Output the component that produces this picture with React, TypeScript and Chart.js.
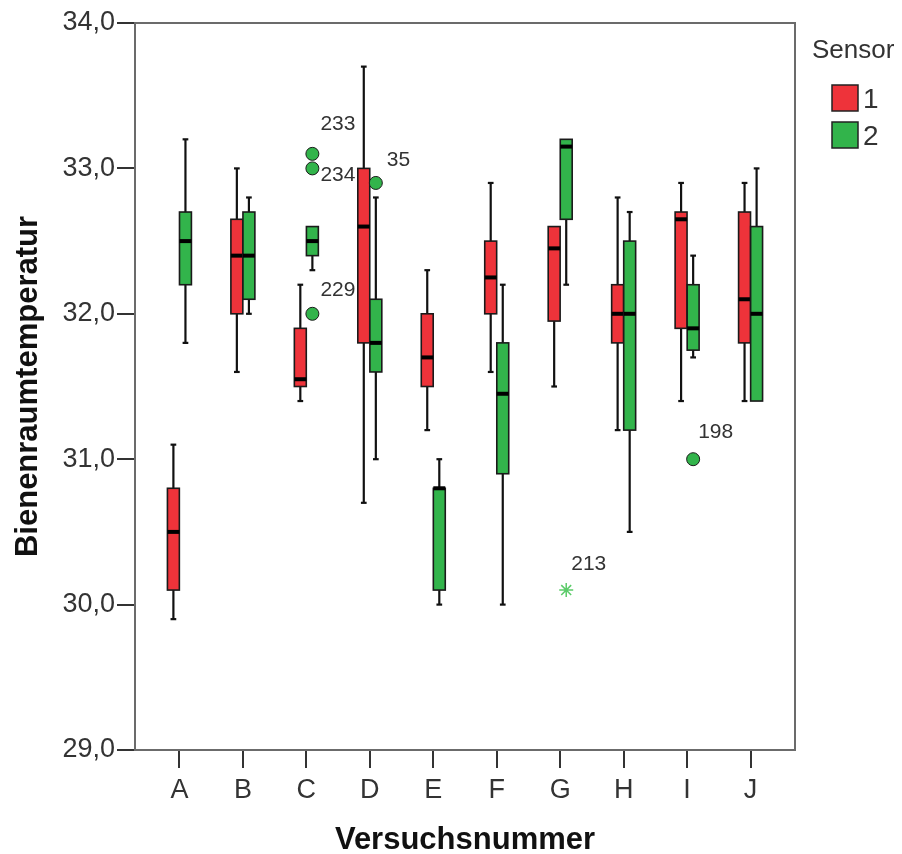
import React, { useEffect, useRef } from 'react';
import { Chart, registerables } from 'chart.js';

Chart.register(...registerables);

const categories = ['A', 'B', 'C', 'D', 'E', 'F', 'G', 'H', 'I', 'J'];
const yTicks = [29, 30, 31, 32, 33, 34];

// Sensor 1 (red)
const s1Min = [29.9, 31.6, 31.4, 30.7, 31.2, 31.6, 31.5, 31.2, 31.4, 31.4];
const s1Q1 = [30.1, 32.0, 31.5, 31.8, 31.5, 32.0, 31.95, 31.8, 31.9, 31.8];
const s1Med = [30.5, 32.4, 31.55, 32.6, 31.7, 32.25, 32.45, 32.0, 32.65, 32.1];
const s1Q3 = [30.8, 32.65, 31.9, 33.0, 32.0, 32.5, 32.6, 32.2, 32.7, 32.7];
const s1Max = [31.1, 33.0, 32.2, 33.7, 32.3, 32.9, 32.6, 32.8, 32.9, 32.9];

// Sensor 2 (green)
const s2Min = [31.8, 32.0, 32.3, 31.0, 30.0, 30.0, 32.2, 30.5, 31.7, 31.4];
const s2Q1 = [32.2, 32.1, 32.4, 31.6, 30.1, 30.9, 32.65, 31.2, 31.75, 31.4];
const s2Med = [32.5, 32.4, 32.5, 31.8, 30.8, 31.45, 33.15, 32.0, 31.9, 32.0];
const s2Q3 = [32.7, 32.7, 32.6, 32.1, 30.8, 31.8, 33.2, 32.5, 32.2, 32.6];
const s2Max = [33.2, 32.8, 32.6, 32.8, 31.0, 32.2, 33.2, 32.7, 32.4, 33.0];

// Outliers (all sensor 2)
const outlierCat = [2, 2, 2, 3, 8];
const outlierVal = [33.1, 33.0, 32.0, 32.9, 31.0];
const outlierId = ['233', '234', '229', '35', '198'];
const outlierLabelDx = [8, 8, 8, 11, 5];
const outlierLabelDy = [-30, 7, -24, -23, -27];

// Extreme values (sensor 2)
const extremeCat = [6];
const extremeVal = [30.1];
const extremeId = ['213'];
const extremeLabelDx = [5];
const extremeLabelDy = [-26];

const legendTitle = 'Sensor';
const legendLabels = ['1', '2'];

const RED = '#ee333a';
const GREEN = '#32b44b';
const FONT = '"Liberation Sans", Arial, sans-serif';
const GROUP_OFF = 0.095;
const BOX_HALF = 0.094;
const CAP_HALF = 0.045;

type Stats = { min: number[]; q1: number[]; med: number[]; q3: number[]; max: number[] };
const sensor1: Stats = { min: s1Min, q1: s1Q1, med: s1Med, q3: s1Q3, max: s1Max };
const sensor2: Stats = { min: s2Min, q1: s2Q1, med: s2Med, q3: s2Q3, max: s2Max };

function drawBox(ctx: CanvasRenderingContext2D, xs: any, ys: any, i: number, center: number, st: Stats, color: string) {
  const cx = xs.getPixelForValue(center);
  const half = xs.getPixelForValue(center + BOX_HALF) - cx;
  const cap = xs.getPixelForValue(center + CAP_HALF) - cx;
  const pMin = ys.getPixelForValue(st.min[i]);
  const pQ1 = ys.getPixelForValue(st.q1[i]);
  const pMed = ys.getPixelForValue(st.med[i]);
  const pQ3 = ys.getPixelForValue(st.q3[i]);
  const pMax = ys.getPixelForValue(st.max[i]);
  ctx.save();
  ctx.strokeStyle = '#111';
  ctx.lineWidth = 2.2;
  if (st.max[i] > st.q3[i]) {
    ctx.beginPath();
    ctx.moveTo(cx, pQ3);
    ctx.lineTo(cx, pMax);
    ctx.stroke();
    ctx.beginPath();
    ctx.moveTo(cx - cap, pMax);
    ctx.lineTo(cx + cap, pMax);
    ctx.stroke();
  }
  if (st.min[i] < st.q1[i]) {
    ctx.beginPath();
    ctx.moveTo(cx, pQ1);
    ctx.lineTo(cx, pMin);
    ctx.stroke();
    ctx.beginPath();
    ctx.moveTo(cx - cap, pMin);
    ctx.lineTo(cx + cap, pMin);
    ctx.stroke();
  }
  ctx.fillStyle = color;
  ctx.fillRect(cx - half, pQ3, 2 * half, pQ1 - pQ3);
  ctx.lineWidth = 1.6;
  ctx.strokeStyle = '#1a1a1a';
  ctx.strokeRect(cx - half, pQ3, 2 * half, pQ1 - pQ3);
  ctx.lineWidth = 4;
  ctx.strokeStyle = '#000';
  ctx.beginPath();
  ctx.moveTo(cx - half, pMed);
  ctx.lineTo(cx + half, pMed);
  ctx.stroke();
  ctx.restore();
}

const boxPlugin = {
  id: 'boxPlugin',
  beforeDatasetsDraw(chart: any) {
    const { ctx, chartArea, scales } = chart;
    const xs = scales.x;
    const ys = scales.y;
    ctx.save();
    ctx.strokeStyle = '#6b6b6b';
    ctx.lineWidth = 2;
    ctx.beginPath();
    ctx.moveTo(chartArea.left, chartArea.top);
    ctx.lineTo(chartArea.right, chartArea.top);
    ctx.lineTo(chartArea.right, chartArea.bottom);
    ctx.stroke();
    ctx.restore();
    categories.forEach((_, i) => {
      drawBox(ctx, xs, ys, i, i - GROUP_OFF, sensor1, RED);
      drawBox(ctx, xs, ys, i, i + GROUP_OFF, sensor2, GREEN);
    });
  },
  afterDatasetsDraw(chart: any) {
    const { ctx, chartArea, scales } = chart;
    const xs = scales.x;
    const ys = scales.y;
    ctx.save();
    ctx.font = `21px ${FONT}`;
    ctx.fillStyle = '#333';
    ctx.textAlign = 'left';
    ctx.textBaseline = 'middle';
    outlierCat.forEach((c, i) => {
      const px = xs.getPixelForValue(c + GROUP_OFF);
      const py = ys.getPixelForValue(outlierVal[i]);
      ctx.fillText(outlierId[i], px + outlierLabelDx[i], py + outlierLabelDy[i]);
    });
    extremeCat.forEach((c, i) => {
      const px = xs.getPixelForValue(c + GROUP_OFF);
      const py = ys.getPixelForValue(extremeVal[i]);
      ctx.fillText(extremeId[i], px + extremeLabelDx[i], py + extremeLabelDy[i]);
    });
    // axis titles
    ctx.fillStyle = '#111';
    ctx.font = `bold 31px ${FONT}`;
    ctx.textAlign = 'center';
    ctx.textBaseline = 'middle';
    const midX = (chartArea.left + chartArea.right) / 2;
    const midY = (chartArea.top + chartArea.bottom) / 2;
    ctx.fillText('Versuchsnummer', midX, 840);
    ctx.save();
    ctx.translate(28, midY);
    ctx.rotate(-Math.PI / 2);
    ctx.fillText('Bienenraumtemperatur', 0, 0);
    ctx.restore();
    // legend
    ctx.font = `26px ${FONT}`;
    ctx.fillStyle = '#333';
    ctx.textAlign = 'left';
    ctx.fillText(legendTitle, 812, 51);
    const colors = [RED, GREEN];
    const tops = [85, 122];
    legendLabels.forEach((lab, k) => {
      ctx.fillStyle = colors[k];
      ctx.fillRect(832, tops[k], 26, 26);
      ctx.strokeStyle = '#222';
      ctx.lineWidth = 1.5;
      ctx.strokeRect(832, tops[k], 26, 26);
      ctx.fillStyle = '#333';
      ctx.font = `28px ${FONT}`;
      ctx.fillText(lab, 863, tops[k] + 15);
    });
    ctx.restore();
  },
};

export default function App() {
  const ref = useRef<HTMLCanvasElement | null>(null);
  useEffect(() => {
    if (!ref.current) return;
    const chart = new Chart(ref.current, {
      type: 'scatter',
      data: {
        datasets: [
          {
            label: 'Ausreißer',
            data: outlierCat.map((c, i) => ({ x: c + GROUP_OFF, y: outlierVal[i] })),
            pointStyle: 'circle',
            pointRadius: 6.5,
            backgroundColor: GREEN,
            borderColor: '#1a1a1a',
            borderWidth: 1,
          },
          {
            label: 'Extremwerte',
            data: extremeCat.map((c, i) => ({ x: c + GROUP_OFF, y: extremeVal[i] })),
            pointStyle: 'star',
            pointRadius: 7,
            backgroundColor: '#5ccb6a',
            borderColor: '#5ccb6a',
            borderWidth: 1.5,
          },
        ],
      },
      options: {
        animation: false,
        responsive: false,
        devicePixelRatio: 1,
        layout: { padding: { top: 23, right: 107, left: 0, bottom: 0 } },
        plugins: { legend: { display: false }, tooltip: { enabled: false } },
        scales: {
          x: {
            type: 'linear',
            min: -0.7,
            max: 9.7,
            afterBuildTicks: (s: any) => {
              s.ticks = categories.map((_, i) => ({ value: i }));
            },
            afterFit: (s: any) => {
              s.height = 104;
            },
            ticks: {
              autoSkip: false,
              maxRotation: 0,
              padding: 6,
              color: '#333',
              font: { family: FONT, size: 27 },
              callback: (v: any) => categories[Math.round(Number(v))] ?? '',
            },
            grid: { drawOnChartArea: false, drawTicks: true, tickLength: 18, color: '#333', lineWidth: 2 },
            border: { display: true, color: '#6b6b6b', width: 2 },
          },
          y: {
            type: 'linear',
            min: 29,
            max: 34,
            afterBuildTicks: (s: any) => {
              s.ticks = yTicks.map((v) => ({ value: v }));
            },
            afterFit: (s: any) => {
              s.width = 135;
            },
            ticks: {
              padding: 2,
              color: '#333',
              font: { family: FONT, size: 27 },
              callback: (v: any) => Number(v).toFixed(1).replace('.', ','),
            },
            grid: { drawOnChartArea: false, drawTicks: true, tickLength: 18, color: '#333', lineWidth: 2 },
            border: { display: true, color: '#6b6b6b', width: 2 },
          },
        },
      },
      plugins: [boxPlugin],
    } as any);
    return () => chart.destroy();
  }, []);
  return (
    <div style={{ position: 'fixed', left: 0, top: 0, width: 902, height: 854, background: '#fff' }}>
      <canvas ref={ref} width={902} height={854} style={{ width: 902, height: 854, display: 'block' }} />
    </div>
  );
}
